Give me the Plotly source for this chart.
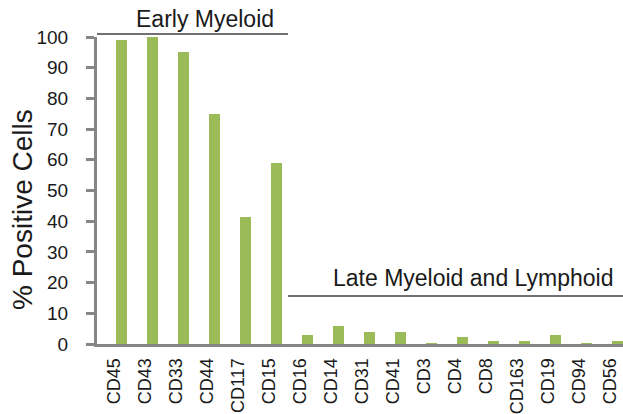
import plotly.graph_objects as go

markers = ["CD45", "CD43", "CD33", "CD44", "CD117", "CD15", "CD16", "CD14", "CD31",
           "CD41", "CD3", "CD4", "CD8", "CD163", "CD19", "CD94", "CD56"]
pct_positive = [99, 100, 95, 75, 41.5, 59, 3, 6, 3.8, 3.8, 0.3, 2.2, 1.1, 1.0, 2.9, 0.3, 1.0]
y_ticks = [0, 10, 20, 30, 40, 50, 60, 70, 80, 90, 100]

FONT = "Liberation Sans, Arial, sans-serif"
AXIS_GRAY = "#868686"

fig = go.Figure(go.Bar(
    x=list(range(len(markers))), y=pct_positive,
    marker=dict(color="#9bbb59", line=dict(width=0)),
    width=0.38, cliponaxis=True,
))

W, H = 623, 414
L, R, T, B = 97, 0, 37, 70
pw, ph = W - L - R, H - T - B

def px_to_paper_x(px):
    return (px - L) / pw

def px_to_paper_y(py):
    return (H - B - py) / ph

fig.update_layout(
    width=W, height=H,
    margin=dict(l=L, r=R, t=T, b=B, pad=0, autoexpand=False),
    plot_bgcolor="white", paper_bgcolor="white",
    showlegend=False,
    font=dict(family=FONT, color="#1a1a1a"),
    bargap=0,
    xaxis=dict(
        range=[-0.79, 16.18], automargin=False,
        tickmode="array", tickvals=list(range(len(markers))), ticktext=markers,
        tickangle=-90, tickfont=dict(size=18, family=FONT, color="#1a1a1a"),
        showline=True, linecolor=AXIS_GRAY, linewidth=3,
        ticks="", showgrid=False, zeroline=False,
        ticklabelstandoff=4, ticklabelshift=-7,
    ),
    yaxis=dict(
        range=[0, 100], automargin=False,
        tickmode="array", tickvals=y_ticks,
        tickfont=dict(size=19, family=FONT, color="#1a1a1a"),
        showline=True, linecolor=AXIS_GRAY, linewidth=3,
        ticks="outside", ticklen=8, tickwidth=2.5, tickcolor=AXIS_GRAY,
        showgrid=False, zeroline=False,
        ticklabelstandoff=14,
    ),
)

fig.add_annotation(
    text="% Positive Cells", textangle=-90,
    xref="paper", yref="paper", x=px_to_paper_x(22), y=px_to_paper_y(210),
    xanchor="center", yanchor="middle", showarrow=False,
    font=dict(size=28, family=FONT, color="#1a1a1a"),
)

# Group labels with lines
fig.add_annotation(
    text="Early Myeloid", xref="paper", yref="paper",
    x=px_to_paper_x(205), y=px_to_paper_y(19),
    xanchor="center", yanchor="middle", showarrow=False,
    font=dict(size=23, family=FONT, color="#1a1a1a"),
)
fig.add_shape(type="line", xref="paper", yref="paper",
              x0=px_to_paper_x(97), x1=px_to_paper_x(288),
              y0=px_to_paper_y(34), y1=px_to_paper_y(34),
              line=dict(color="#404040", width=1.3))
fig.add_annotation(
    text="Late Myeloid and Lymphoid", xref="paper", yref="paper",
    x=px_to_paper_x(473), y=px_to_paper_y(278),
    xanchor="center", yanchor="middle", showarrow=False,
    font=dict(size=23, family=FONT, color="#1a1a1a"),
)
fig.add_shape(type="line", xref="paper", yref="paper",
              x0=px_to_paper_x(288), x1=px_to_paper_x(623),
              y0=px_to_paper_y(296), y1=px_to_paper_y(296),
              line=dict(color="#404040", width=1.3))

fig.write_html(
    "out.html",
    config={"displayModeBar": False},
    post_script="document.body.style.margin='0';document.body.style.overflow='hidden';",
)
